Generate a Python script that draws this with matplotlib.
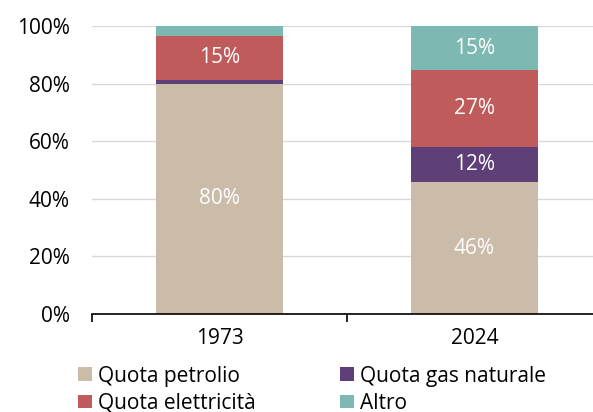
import matplotlib.pyplot as plt
import numpy as np

plt.rcParams['font.family'] = ['Open Sans', 'DejaVu Sans']

# dati (quote in %)
anni = ['1973', '2024']
serie = ['Quota petrolio', 'Quota gas naturale', 'Quota elettricità', 'Altro']
petrolio = [80.0, 45.8]
gas = [1.4, 12.2]
elettricita = [15.2, 26.7]
altro = [3.4, 15.3]
colori = ['#cbbba9', '#5f3f78', '#c05b5b', '#7db8b2']

valori = [petrolio, gas, elettricita, altro]
fs = 15

fig = plt.figure(figsize=(5.93, 4.12), dpi=100)
ax = fig.add_axes([92 / 593, 1 - 314 / 412, 510 / 593, 288 / 412])

x = np.arange(len(anni))
base = np.zeros(len(anni))
barre = []
for nome, vals, col in zip(serie, valori, colori):
    vals = np.array(vals)
    b = ax.bar(x, vals, bottom=base, width=0.5, color=col, label=nome, zorder=2)
    barre.append(b)
    for xi, b0, v in zip(x, base, vals):
        if v >= 10:
            ax.text(xi, b0 + v / 2, f'{v:.0f}%', ha='center', va='center',
                    color='white', fontsize=fs, zorder=3)
    base = base + vals

ax.set_xlim(-0.5, 1.5)
ax.set_ylim(0, 100)
ax.set_yticks(np.arange(0, 101, 20))
ax.set_yticklabels([f'{v}%' for v in range(0, 101, 20)], fontsize=fs)
ax.yaxis.grid(True, color='#d9d9d9', linewidth=1, zorder=0)
ax.tick_params(axis='y', length=0, pad=16)

ax.set_xticks(x)
ax.set_xticklabels(anni, fontsize=fs)
ax.set_xticks([-0.5, 0.5, 1.5], minor=True)
ax.tick_params(axis='x', which='major', length=0, pad=10)
ax.tick_params(axis='x', which='minor', length=6, width=1.2, color='black')

for s in ['top', 'right', 'left']:
    ax.spines[s].set_visible(False)
ax.spines['bottom'].set_color('black')
ax.spines['bottom'].set_linewidth(1.2)

# ordine per righe: petrolio, gas / elettricità, altro
ordine = [0, 2, 1, 3]
ax.legend([barre[i] for i in ordine], [serie[i] for i in ordine],
          loc='upper left', bbox_to_anchor=(-0.043, -0.15), ncol=2,
          frameon=False, fontsize=fs, handlelength=0.65, handleheight=0.65,
          handletextpad=0.3, columnspacing=4.05, labelspacing=0.3,
          borderaxespad=0)

fig.savefig('out.png', dpi=100)
